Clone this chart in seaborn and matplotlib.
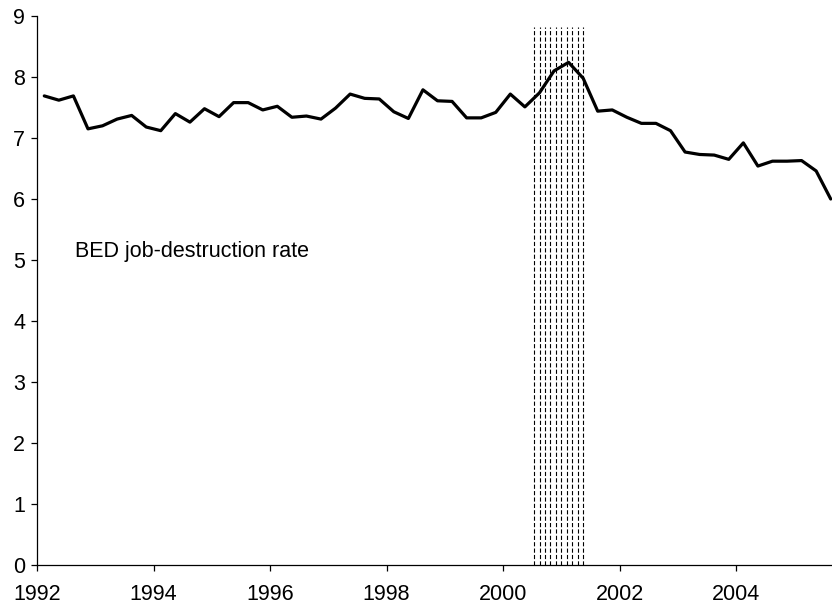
import numpy as np
import pandas as pd
import matplotlib
matplotlib.use("Agg")
import matplotlib.pyplot as plt
import seaborn as sns

# Quarterly BED job-destruction rate, 1992Q1 - 2005Q3
rate = [7.69, 7.62, 7.69, 7.15, 7.20, 7.31, 7.37, 7.18, 7.12, 7.40,
        7.26, 7.48, 7.35, 7.58, 7.58, 7.46, 7.52, 7.34, 7.36, 7.31,
        7.49, 7.72, 7.65, 7.64, 7.43, 7.32, 7.79, 7.61, 7.60, 7.33,
        7.33, 7.42, 7.72, 7.51, 7.74, 8.10, 8.24, 7.98, 7.44, 7.46,
        7.34, 7.24, 7.24, 7.12, 6.77, 6.73, 6.72, 6.65, 6.92, 6.54,
        6.62, 6.62, 6.63, 6.46, 6.00]
year_labels = ["1992", "1994", "1996", "1998", "2000", "2002", "2004"]
label_text = "BED job-destruction rate"

# recession band, in quarters from 1992Q1, and its top
recession_start, recession_end, recession_top = 34.13, 37.5, 8.82

df = pd.DataFrame({"pos": np.arange(len(rate)) + 0.5, "rate": rate})

sns.set_style("ticks")
plt.rcParams["font.family"] = ["Liberation Sans", "DejaVu Sans"]
plt.rcParams["lines.scale_dashes"] = False

fig = plt.figure(figsize=(8.32, 6.07), dpi=100)
ax = fig.add_axes([37 / 832, 42 / 607, 801 / 832, 549 / 607])

# recession shading drawn as dashed vertical hatch lines
ax.vlines(np.linspace(recession_start, recession_end, 10), 0, recession_top,
          colors="black", linewidth=0.8, linestyles=[(0, (3.0, 1.6))])

sns.lineplot(data=df, x="pos", y="rate", color="black", linewidth=2.3, ax=ax)

ax.set_xlim(0, len(rate))
ax.set_ylim(0, 9)
ax.set_xticks(np.arange(0, 49, 8))
ax.set_xticklabels(year_labels)
ax.set_yticks(range(0, 10))
ax.set_xlabel("")
ax.set_ylabel("")
sns.despine(ax=ax)
for s in ["left", "bottom"]:
    ax.spines[s].set_linewidth(0.9)
    ax.spines[s].set_color("black")
ax.tick_params(axis="x", length=4.5, width=0.9, pad=9, labelsize=15.5, colors="black")
ax.tick_params(axis="y", length=4.5, width=0.9, pad=4, labelsize=15.5, colors="black")

ax.text(2.6, 5.14, label_text, fontsize=15.5, color="black", va="center", ha="left")

fig.savefig("out.png", dpi=100)
